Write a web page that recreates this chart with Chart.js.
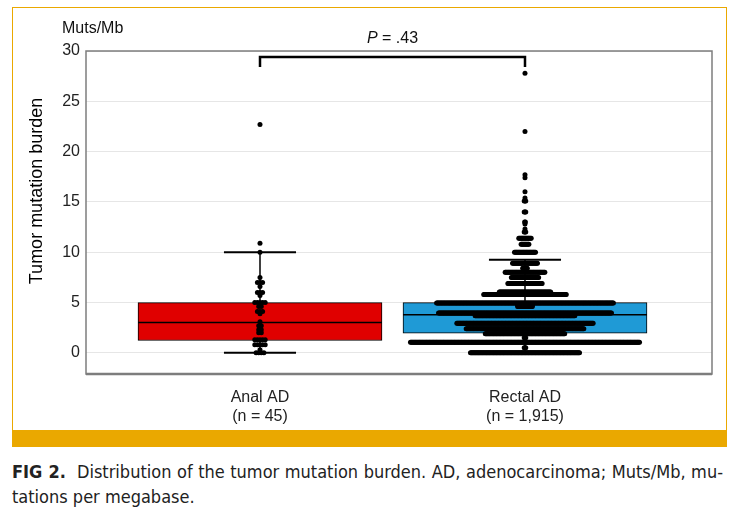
<!DOCTYPE html>
<html>
<head>
<meta charset="utf-8">
<script src="https://cdn.jsdelivr.net/npm/chart.js@4.4.1/dist/chart.umd.min.js"></script>
<style>
  body { margin: 0; width: 735px; height: 516px; background: #fff; position: relative; overflow: hidden;
         font-family: 'Liberation Sans', Arial, sans-serif; }
  #frame { position: absolute; left: 12px; top: 7px; width: 715px; height: 440px; box-sizing: border-box;
           border: 1.5px solid #eaa800; }
  #band { position: absolute; left: 12px; top: 430px; width: 715px; height: 17px; background: #eaa800; }
  #chart { position: absolute; left: 0; top: 0; }
  #caption { position: absolute; left: 12px; top: 459px; width: 711px; font-size: 18px; line-height: 25px; color: #222;
             font-family: 'Liberation Sans Narrow', 'DejaVu Sans Condensed', Arial, sans-serif; }
  #caption .l1 { text-align: justify; text-align-last: justify; white-space: nowrap; }
</style>
</head>
<body>
<div id="frame"></div>
<div id="band"></div>
<canvas id="chart" width="735" height="430"></canvas>
<div id="caption">
  <div class="l1"><b>FIG 2.</b>&nbsp; Distribution of the tumor mutation burden. AD, adenocarcinoma; Muts/Mb, mu-</div>
  <div>tations per megabase.</div>
</div>
<script>
// categorias e rótulos
const categories = ['Anal AD', 'Rectal AD'];
const groupSizes = ['(n = 45)', '(n = 1,915)'];
const yTicks = [0, 5, 10, 15, 20, 25, 30];
const pText = '.43';

// resumo dos boxplots
const boxMin = [0, 0];
const boxQ1 = [1.23, 1.95];
const boxMedian = [3.02, 3.78];
const boxQ3 = [5.0, 5.0];
const boxMax = [10.0, 9.25];

// pontos (valor e quantidade em cada nível)
const analValues = [0, 0.3, 0.8, 1.3, 2.0, 2.3, 2.7, 3.1, 3.9, 4.1, 4.6, 5.0, 5.7, 6.0, 6.6, 7.0, 7.5, 10.0, 10.9, 22.7];
const analCounts = [4, 1, 5, 5, 2, 2, 2, 1, 1, 3, 2, 5, 1, 3, 1, 3, 1, 1, 1, 1];
const rectalValues = [0, 0.5, 1.05, 1.5, 1.9, 2.4, 2.95, 3.7, 3.95, 4.6, 4.8, 4.95, 5.8, 6.05, 6.9, 7.5, 8.0, 8.4, 8.9,
                      10.0, 10.8, 11.4, 12.0, 12.3, 12.8, 13.0, 14.0, 15.1, 15.4, 16.0, 17.4, 17.7, 22.0, 27.8];
const rectalCounts = [141, 3, 295, 3, 103, 152, 176, 129, 223, 20, 20, 228, 107, 67, 45, 36, 52, 7, 33,
                      28, 11, 17, 3, 1, 1, 2, 3, 3, 1, 1, 1, 1, 1, 1];

const boxColors = ['#e00000', '#1f9ad6'];
const FONT = "'Liberation Sans', Arial, sans-serif";

// espalha os pontos de cada nível na horizontal (beeswarm simples)
function swarm(center, values, counts, step) {
  const pts = [];
  values.forEach((v, k) => {
    const n = counts[k];
    for (let i = 0; i < n; i++) pts.push({ x: center + (i - (n - 1) / 2) * step, y: v });
  });
  return pts;
}

const points = swarm(1, analValues, analCounts, 0.0098).concat(swarm(2, rectalValues, rectalCounts, 0.00294));

function line(ctx, x1, y1, x2, y2) {
  ctx.beginPath(); ctx.moveTo(x1, y1); ctx.lineTo(x2, y2); ctx.stroke();
}

const extras = {
  id: 'extras',
  afterDatasetDraw(chart, args) {
    if (args.index !== 0) return;
    const { ctx, scales: { x, y } } = chart;
    const bars = chart.getDatasetMeta(0).data;
    ctx.save();
    ctx.strokeStyle = '#000';
    categories.forEach((c, i) => {
      const cx = x.getPixelForValue(i + 1);
      const half = x.getPixelForValue(i + 1.136) - cx;
      ctx.lineWidth = 1.5;
      line(ctx, cx, y.getPixelForValue(boxQ3[i]), cx, y.getPixelForValue(boxMax[i]));
      line(ctx, cx, y.getPixelForValue(boxQ1[i]), cx, y.getPixelForValue(boxMin[i]));
      ctx.lineWidth = 2;
      line(ctx, cx - half, y.getPixelForValue(boxMax[i]), cx + half, y.getPixelForValue(boxMax[i]));
      line(ctx, cx - half, y.getPixelForValue(boxMin[i]), cx + half, y.getPixelForValue(boxMin[i]));
      ctx.lineWidth = 1.5;
      const b = bars[i];
      const ym = y.getPixelForValue(boxMedian[i]);
      line(ctx, b.x - b.width / 2, ym, b.x + b.width / 2, ym);
    });
    ctx.restore();
  },
  afterDraw(chart) {
    const { ctx, chartArea: a, scales: { x, y } } = chart;
    ctx.save();
    // moldura do gráfico
    ctx.strokeStyle = '#7d7d7d';
    ctx.lineWidth = 1.5;
    ctx.strokeRect(a.left, a.top, a.right - a.left, a.bottom - a.top);
    ctx.lineWidth = 2.5;
    line(ctx, a.left, a.bottom, a.right, a.bottom);
    // colchete de comparação
    const x1 = x.getPixelForValue(1), x2 = x.getPixelForValue(2);
    const yb = y.getPixelForValue(29.4), ye = y.getPixelForValue(28.4);
    ctx.strokeStyle = '#000';
    ctx.lineWidth = 2.5;
    ctx.beginPath();
    ctx.moveTo(x1, ye); ctx.lineTo(x1, yb); ctx.lineTo(x2, yb); ctx.lineTo(x2, ye);
    ctx.stroke();
    // texto P
    ctx.fillStyle = '#111';
    ctx.textBaseline = 'middle';
    ctx.font = 'italic 16px ' + FONT;
    const wP = ctx.measureText('P').width;
    ctx.font = '16px ' + FONT;
    const rest = ' = ' + pText;
    const wR = ctx.measureText(rest).width;
    const xs = (x1 + x2) / 2 - (wP + wR) / 2;
    ctx.textAlign = 'left';
    ctx.font = 'italic 16px ' + FONT;
    ctx.fillText('P', xs, 39);
    ctx.font = '16px ' + FONT;
    ctx.fillText(rest, xs + wP, 39);
    // unidade
    ctx.font = '16px ' + FONT;
    ctx.fillText('Muts/Mb', 62, 29);
    // título do eixo y
    ctx.translate(37, 191);
    ctx.rotate(-Math.PI / 2);
    ctx.textAlign = 'center';
    ctx.font = '18px ' + FONT;
    ctx.fillStyle = '#000';
    ctx.fillText('Tumor mutation burden', 0, 0);
    ctx.restore();
  }
};

new Chart(document.getElementById('chart'), {
  type: 'scatter',
  data: {
    datasets: [
      {
        type: 'bar',
        data: categories.map((c, i) => ({ x: i + 1, y: [boxQ1[i], boxQ3[i]] })),
        backgroundColor: boxColors,
        borderColor: '#000',
        borderWidth: 1,
        borderSkipped: false,
        barThickness: 244,
        grouped: false,
        order: 2
      },
      {
        type: 'scatter',
        data: points,
        pointRadius: 2.5,
        pointBackgroundColor: '#000',
        pointBorderWidth: 0,
        order: 1
      }
    ]
  },
  options: {
    responsive: false,
    animation: false,
    layout: { padding: { left: 0, top: 51, right: 23, bottom: 0 } },
    plugins: { legend: { display: false }, tooltip: { enabled: false } },
    scales: {
      x: {
        type: 'linear',
        min: 0.3434,
        max: 2.7057,
        offset: false,
        grid: { display: false, offset: false },
        border: { display: false },
        afterBuildTicks: s => { s.ticks = categories.map((c, i) => ({ value: i + 1 })); },
        afterFit: s => { s.height = 56; },
        ticks: {
          autoSkip: false,
          maxRotation: 0,
          padding: 6,
          color: '#222',
          font: { family: FONT, size: 16 },
          callback: (v, i) => [categories[i], groupSizes[i]]
        }
      },
      y: {
        min: -2.1,
        max: 30,
        grid: { color: '#e6e6e6', drawTicks: false },
        border: { display: false },
        afterBuildTicks: s => { s.ticks = yTicks.map(v => ({ value: v })); },
        afterFit: s => { s.width = 86; },
        ticks: { padding: 6, color: '#222', font: { family: FONT, size: 16 } }
      }
    }
  },
  plugins: [extras]
});
</script>
</body>
</html>
